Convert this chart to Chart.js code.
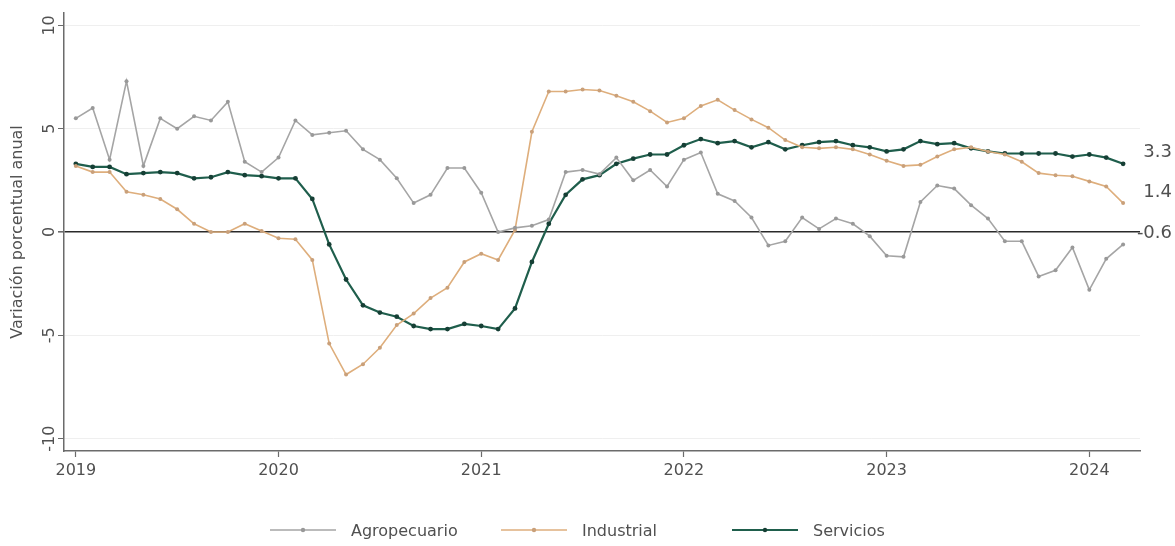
<!DOCTYPE html>
<html lang="es">
<head>
<meta charset="utf-8">
<title>Variación porcentual anual por sector</title>
<script src="https://cdn.jsdelivr.net/npm/chart.js@4.4.1/dist/chart.umd.min.js"></script>
<style>
    html, body { margin: 0; padding: 0; background: #ffffff; }
    #wrap { position: relative; width: 1175px; height: 546px; }
    #legend {
        position: absolute; left: 270px; top: 520px; height: 20px;
        display: flex; align-items: center;
        font-family: 'DejaVu Sans', sans-serif; font-size: 16px; color: #505050;
    }
    #legend .item { width: 231px; display: flex; align-items: center; white-space: nowrap; }
    #legend svg { margin-right: 15px; }
</style>
</head>
<body>
<div id="wrap">
    <canvas id="sectorChart"></canvas>
    <div id="legend"></div>
</div>
<script>
// Eje X: meses desde ene-2019 hasta mar-2024 (indice 0 = ene 2019)
const YEARS = ['2019', '2020', '2021', '2022', '2023', '2024'];
const YEAR_TICKS = [0, 12, 24, 36, 48, 60];
const Y_TICKS = [-10, -5, 0, 5, 10];

// Series (variacion % anual)
const agropecuario = [
    5.5, 6.0, 3.5, 7.3, 3.2, 5.5, 5.0, 5.6, 5.4, 6.3, 3.4, 2.9,
    3.6, 5.4, 4.7, 4.8, 4.9, 4.0, 3.5, 2.6, 1.4, 1.8, 3.1, 3.1,
    1.9, 0.0, 0.2, 0.3, 0.6, 2.9, 3.0, 2.8, 3.6, 2.5, 3.0, 2.2,
    3.5, 3.85, 1.85, 1.5, 0.7, -0.65, -0.45, 0.7, 0.15, 0.65, 0.4, -0.2,
    -1.15, -1.2, 1.45, 2.25, 2.1, 1.3, 0.65, -0.45, -0.45, -2.15, -1.85, -0.75,
    -2.8, -1.3, -0.6
];
const industrial = [
    3.2, 2.9, 2.9, 1.95, 1.8, 1.6, 1.1, 0.4, 0.0, 0.0, 0.4, 0.05,
    -0.3, -0.35, -1.35, -5.4, -6.9, -6.4, -5.6, -4.5, -3.95, -3.2, -2.7, -1.45,
    -1.05, -1.35, 0.1, 4.85, 6.8, 6.8, 6.9, 6.85, 6.6, 6.3, 5.85, 5.3,
    5.5, 6.1, 6.4, 5.9, 5.45, 5.05, 4.45, 4.1, 4.05, 4.1, 4.0, 3.75,
    3.45, 3.2, 3.25, 3.65, 4.0, 4.1, 3.9, 3.75, 3.4, 2.85, 2.75, 2.7,
    2.45, 2.2, 1.4
];
const servicios = [
    3.3, 3.15, 3.15, 2.8, 2.85, 2.9, 2.85, 2.6, 2.65, 2.9, 2.75, 2.7,
    2.6, 2.6, 1.6, -0.6, -2.3, -3.55, -3.9, -4.1, -4.55, -4.7, -4.7, -4.45,
    -4.55, -4.7, -3.7, -1.45, 0.4, 1.8, 2.55, 2.75, 3.3, 3.55, 3.75, 3.75,
    4.2, 4.5, 4.3, 4.4, 4.1, 4.35, 4.0, 4.2, 4.35, 4.4, 4.2, 4.1,
    3.9, 4.0, 4.4, 4.25, 4.3, 4.05, 3.9, 3.8, 3.8, 3.8, 3.8, 3.65,
    3.75, 3.6, 3.3
];

const SERIES = [
    { label: 'Agropecuario', data: agropecuario, line: '#a5a5a5', point: '#999999', width: 1.6, radius: 2 },
    { label: 'Industrial', data: industrial, line: '#deae7c', point: '#c9a07a', width: 1.6, radius: 2 },
    { label: 'Servicios', data: servicios, line: '#1f5e4c', point: '#163f35', width: 2.2, radius: 2.4 }
];

const FONT = "'DejaVu Sans', sans-serif";
const TEXT_COLOR = '#505050';
const AXIS_COLOR = '#6b6b6b';

// Etiquetas del ultimo valor a la derecha (alineadas al borde)
const endLabels = {
    id: 'endLabels',
    afterDatasetsDraw(chart) {
        const ctx = chart.ctx;
        const y = chart.scales.y;
        ctx.save();
        ctx.font = `18px ${FONT}`;
        ctx.fillStyle = TEXT_COLOR;
        ctx.textAlign = 'right';
        ctx.textBaseline = 'middle';
        chart.data.datasets.forEach(ds => {
            const last = ds.data[ds.data.length - 1];
            ctx.fillText(last.y.toFixed(1), chart.width - 3, y.getPixelForValue(last.y) - 11);
        });
        ctx.restore();
    }
};

// Leyenda en HTML (columnas de ancho fijo)
function buildLegend() {
    document.getElementById('legend').innerHTML = SERIES.map(s => `
        <div class="item">
            <svg width="66" height="12">
                <line x1="0" y1="6" x2="66" y2="6" stroke="${s.line}" stroke-width="${s.width}"/>
                <circle cx="33" cy="6" r="2.2" fill="${s.point}"/>
            </svg>
            <span>${s.label}</span>
        </div>
    `).join('');
}

const datasets = SERIES.map(s => ({
    label: s.label,
    data: s.data.map((v, i) => ({ x: i, y: v })),
    borderColor: s.line,
    backgroundColor: s.point,
    borderWidth: s.width,
    pointRadius: s.radius,
    pointBorderWidth: 0,
    pointBackgroundColor: s.point,
    tension: 0
}));

new Chart(document.getElementById('sectorChart'), {
    type: 'line',
    data: { datasets },
    options: {
        responsive: true,
        maintainAspectRatio: false,
        animation: false,
        layout: { padding: { left: 4, right: 35, top: 13, bottom: 65 } },
        plugins: {
            tooltip: { enabled: false },
            legend: { display: false }
        },
        scales: {
            x: {
                type: 'linear',
                min: -0.7,
                max: 63,
                afterBuildTicks: (scale) => { scale.ticks = YEAR_TICKS.map(v => ({ value: v })); },
                afterFit: (scale) => { scale.height = 30; },
                grid: { drawOnChartArea: false, drawTicks: true, tickLength: 6, tickColor: AXIS_COLOR, tickWidth: 1.2 },
                border: { color: AXIS_COLOR, width: 1.5 },
                ticks: {
                    color: TEXT_COLOR,
                    font: { family: FONT, size: 16 },
                    padding: 4,
                    maxRotation: 0,
                    callback: (v) => YEARS[YEAR_TICKS.indexOf(v)]
                }
            },
            y: {
                min: -10.6,
                max: 10.6,
                afterBuildTicks: (scale) => { scale.ticks = Y_TICKS.map(v => ({ value: v })); },
                afterFit: (scale) => { scale.width = 60; },
                grid: {
                    color: (c) => c.tick && c.tick.value === 0 ? '#2a2a2a' : '#efefef',
                    lineWidth: (c) => c.tick && c.tick.value === 0 ? 1.6 : 1,
                    drawTicks: true,
                    tickLength: 6,
                    tickColor: AXIS_COLOR
                },
                border: { color: AXIS_COLOR, width: 1.5 },
                title: {
                    display: true,
                    text: 'Variación porcentual anual',
                    color: TEXT_COLOR,
                    font: { family: FONT, size: 16 },
                    padding: { top: 4, bottom: 0 }
                },
                ticks: {
                    color: TEXT_COLOR,
                    font: { family: FONT, size: 16 },
                    minRotation: 90,
                    maxRotation: 90,
                    crossAlign: 'center',
                    padding: -5
                }
            }
        }
    },
    plugins: [endLabels]
});

buildLegend();
</script>
</body>
</html>
